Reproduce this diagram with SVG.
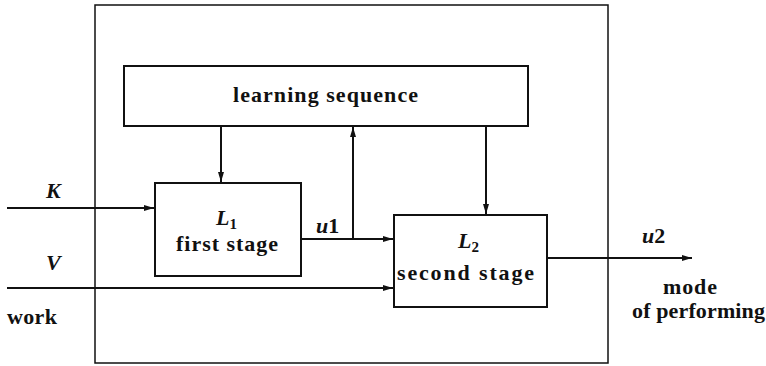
<svg xmlns="http://www.w3.org/2000/svg" width="766" height="366" viewBox="0 0 766 366">
  <style>
    .box { fill: #fff; stroke: #111; stroke-width: 2; }
    .wire { fill: none; stroke: #111; stroke-width: 2; }
    .t { font-family: "Liberation Serif", "Times New Roman", serif; font-size: 22px; font-weight: bold; fill: #111; }
    .m { font-family: "Liberation Serif", "Times New Roman", serif; font-size: 22px; font-style: italic; font-weight: bold; fill: #111; }
  </style>
  <defs>
    <marker id="arrow" viewBox="0 0 10 6" refX="10" refY="3" markerWidth="10" markerHeight="6" markerUnits="userSpaceOnUse" orient="auto">
      <path d="M0,0 L10,3 L0,6 Z" fill="#111"/>
    </marker>
  </defs>
  <rect width="766" height="366" fill="#fff"/>

  <!-- enclosing system boundary -->
  <g id="system">
    <rect x="95" y="5" width="513" height="358" fill="none" stroke="#111" stroke-width="1.5"/>
  </g>

  <!-- connectors -->
  <g id="connectors">
    <line class="wire" x1="221" y1="126" x2="221" y2="182" marker-end="url(#arrow)"/>
    <line class="wire" x1="353" y1="239" x2="353" y2="127" marker-end="url(#arrow)"/>
    <line class="wire" x1="486" y1="126" x2="486" y2="214" marker-end="url(#arrow)"/>
    <line class="wire" x1="7" y1="208" x2="154" y2="208" marker-end="url(#arrow)"/>
    <line class="wire" x1="301" y1="239" x2="393" y2="239" marker-end="url(#arrow)"/>
    <line class="wire" x1="7" y1="288" x2="393" y2="288" marker-end="url(#arrow)"/>
    <line class="wire" x1="547" y1="258" x2="692" y2="258" marker-end="url(#arrow)"/>
  </g>

  <g id="learning">
    <rect class="box" x="124" y="66" width="404" height="60"/>
    <text class="t" x="233" y="102" textLength="185" lengthAdjust="spacing">learning sequence</text>
  </g>

  <g id="stage1">
    <rect class="box" x="155" y="183" width="146" height="93"/>
    <text class="m" x="216" y="225">L<tspan font-size="15" font-style="normal" dy="4">1</tspan></text>
    <text class="t" x="176" y="251" textLength="102" lengthAdjust="spacing">first stage</text>
  </g>

  <g id="stage2">
    <rect class="box" x="394" y="215" width="153" height="92"/>
    <text class="m" x="458" y="248">L<tspan font-size="15" font-style="normal" dy="4">2</tspan></text>
    <text class="t" x="397" y="280" textLength="137" lengthAdjust="spacing">second stage</text>
  </g>

  <!-- signal labels -->
  <g id="labels">
    <text class="m" x="46" y="198">K</text>
    <text class="m" x="46" y="270">V</text>
    <text class="t" x="7" y="324" textLength="50" lengthAdjust="spacing">work</text>
    <text class="m" x="316" y="233">u<tspan font-style="normal">1</tspan></text>
    <text class="m" x="642" y="243">u<tspan font-style="normal">2</tspan></text>
    <text class="t" x="663" y="294" textLength="54" lengthAdjust="spacing">mode</text>
    <text class="t" x="632" y="318" textLength="133" lengthAdjust="spacing">of performing</text>
  </g>
</svg>
